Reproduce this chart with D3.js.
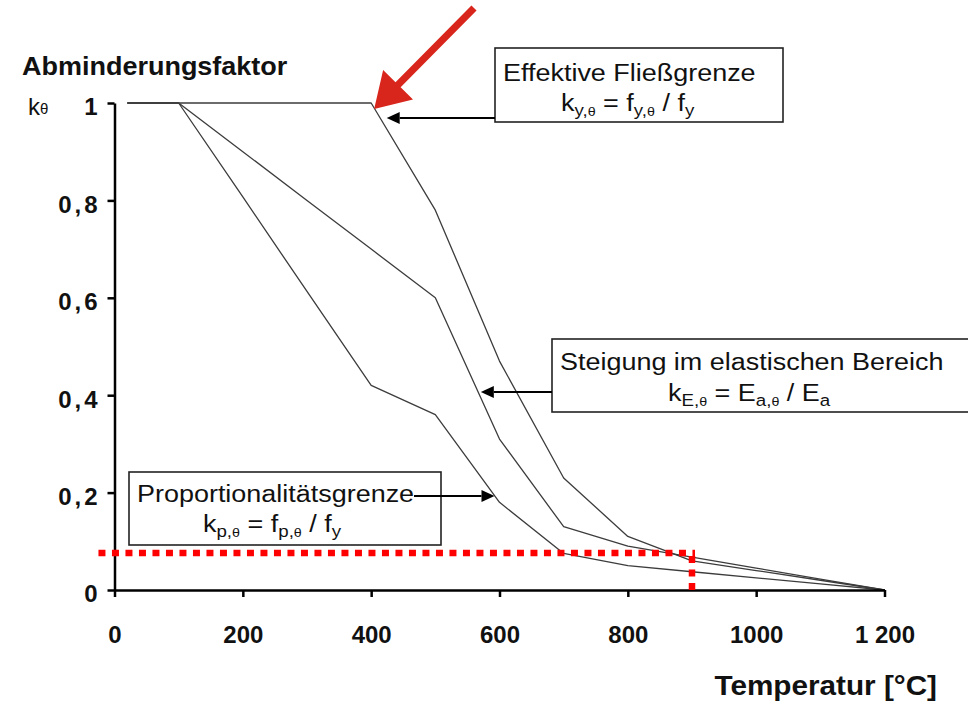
<!DOCTYPE html>
<html>
<head>
<meta charset="utf-8">
<script src="https://cdn.jsdelivr.net/npm/d3@7"></script>
<style>
  html, body { margin: 0; padding: 0; background: #fff; }
  svg { display: block; }
  text { font-family: "Liberation Sans", Arial, sans-serif; fill: #111; }
</style>
</head>
<body>
<svg id="chart" width="968" height="701"></svg>
<script>
// Reduction factors of structural steel at elevated temperature
const temps = [20, 100, 200, 300, 400, 500, 600, 700, 800, 900, 1000, 1100, 1200];
const kYield = [1, 1, 1, 1, 1, 0.78, 0.47, 0.23, 0.11, 0.06, 0.04, 0.02, 0];
const kElastic = [1, 1, 0.9, 0.8, 0.7, 0.6, 0.31, 0.13, 0.09, 0.0675, 0.045, 0.0225, 0];
const kProp = [1, 1, 0.807, 0.613, 0.42, 0.36, 0.18, 0.075, 0.05, 0.0375, 0.025, 0.0125, 0];

const xTicks = [0, 200, 400, 600, 800, 1000, 1200];
const xTickLabels = ["0", "200", "400", "600", "800", "1000", "1 200"];
const yTicks = [0, 0.2, 0.4, 0.6, 0.8, 1];
const yTickLabels = ["0", "0,2", "0,4", "0,6", "0,8", "1"];

// Highlighted reading: about 900 °C at a factor of roughly 0.075
const markTemp = 900;
const markK = 0.076;
const markStartTemp = -25;

// Arrow targets on the curves (temperature where each label points)
const yieldArrowTemp = 418;
const elasticArrowTemp = 574;
const propArrowTemp = 600;

const svg = d3.select("#chart");

const x = d3.scaleLinear().domain([0, 1200]).range([114.5, 884.5]);
const y = d3.scaleLinear().domain([0, 1]).range([590, 103]);

// Curves
const line = d3.line().x(d => x(d[0])).y(d => y(d[1]));
[kYield, kElastic, kProp].forEach(series => {
  svg.append("path")
    .datum(temps.map((t, i) => [t, series[i]]))
    .attr("d", line)
    .attr("fill", "none")
    .attr("stroke", "#3c3c3c")
    .attr("stroke-width", 1.3)
    .attr("stroke-linejoin", "round");
});

// Axes
const yAxis = d3.axisLeft(y)
  .tickValues(yTicks)
  .tickFormat((d, i) => yTickLabels[i])
  .tickSizeInner(7)
  .tickSizeOuter(0)
  .tickPadding(10);
const gy = svg.append("g").attr("transform", `translate(${x(0)},0)`).call(yAxis);
gy.attr("font-family", null);
gy.select(".domain").attr("stroke", "#000").attr("stroke-width", 2.5);
gy.selectAll(".tick line").attr("stroke", "#000").attr("stroke-width", 2.5);
gy.selectAll(".tick text")
  .attr("dy", "0.62em").attr("dx", 3)
  .style("font-size", "24px").style("font-weight", "bold").style("fill", "#111")
  .style("letter-spacing", "3px")
  .attr("transform", "translate(0,-3)");

const xAxis = d3.axisBottom(x)
  .tickValues(xTicks)
  .tickFormat((d, i) => xTickLabels[i])
  .tickSizeInner(7)
  .tickSizeOuter(0)
  .tickPadding(29);
const gx = svg.append("g").attr("transform", `translate(0,${y(0)})`).call(xAxis);
gx.attr("font-family", null);
gx.select(".domain").attr("stroke", "#000").attr("stroke-width", 2.5);
gx.selectAll(".tick line").attr("stroke", "#000").attr("stroke-width", 2.5);
gx.selectAll(".tick text")
  .style("font-size", "24px").style("font-weight", "bold").style("fill", "#111");

// Text drawn slightly wider than the font's natural width
function wideText(xx, yy, size, sx, bold, anchor) {
  return svg.append("text")
    .attr("transform", `translate(${xx},${yy}) scale(${sx},1)`)
    .attr("text-anchor", anchor || "start")
    .style("font-size", size + "px")
    .style("font-weight", bold ? "bold" : "normal");
}

// Axis titles
wideText(22, 75, 25, 1.08, true).text("Abminderungsfaktor");
const kt = wideText(28, 115, 24, 1.0, false);
kt.append("tspan").text("k");
kt.append("tspan").style("font-size", "15px").attr("dy", -1).text("θ");
wideText(937, 695, 27, 1.1, true, "end").text("Temperatur [°C]");

// Red dotted reading lines
const red = "#ff0000";
svg.append("line")
  .attr("x1", x(markStartTemp)).attr("x2", x(markTemp) + 3)
  .attr("y1", y(markK)).attr("y2", y(markK))
  .attr("stroke", red).attr("stroke-width", 6.5).attr("stroke-dasharray", "7,6.5");
svg.append("line")
  .attr("x1", x(markTemp)).attr("x2", x(markTemp))
  .attr("y1", y(markK) + 3).attr("y2", y(0) + 3)
  .attr("stroke", red).attr("stroke-width", 6.5).attr("stroke-dasharray", "7,6.5");

// Black label arrows
function blackArrow(x1, yy, x2) {
  const dir = Math.sign(x2 - x1);
  const headLen = 13, headHalf = 6;
  svg.append("line").attr("x1", x1).attr("y1", yy).attr("x2", x2 - dir * headLen).attr("y2", yy)
    .attr("stroke", "#000").attr("stroke-width", 2);
  svg.append("path")
    .attr("d", `M${x2},${yy} L${x2 - dir * headLen},${yy - headHalf} L${x2 - dir * headLen},${yy + headHalf} Z`)
    .attr("fill", "#000");
}

// Formula line: main symbol followed by a lowered index (letter + small theta)
function formulaText(xx, yy, parts) {
  const t = wideText(xx, yy, 24.5, 1.1, false);
  let lowered = false;
  parts.forEach(p => {
    if (p.sub) {
      t.append("tspan").attr("dy", lowered ? 0 : 5).style("font-size", "17px").text(p.sub);
      lowered = true;
      if (p.theta) t.append("tspan").style("font-size", "13px").text(p.theta);
    } else {
      t.append("tspan").attr("dy", lowered ? -5 : 0).text(p.t);
      lowered = false;
    }
  });
}
function box(x0, y0, x1, y1) {
  svg.append("rect").attr("x", x0).attr("y", y0).attr("width", x1 - x0).attr("height", y1 - y0)
    .attr("fill", "#fff").attr("stroke", "#222").attr("stroke-width", 1.6);
}

// Effektive Fließgrenze
box(495, 48, 783, 122);
wideText(503, 81, 24.5, 1.1, false).text("Effektive Fließgrenze");
formulaText(561, 111, [{ t: "k" }, { sub: "y,", theta: "θ" }, { t: " = f" }, { sub: "y,", theta: "θ" }, { t: " / f" }, { sub: "y" }]);
blackArrow(495, 118, x(yieldArrowTemp) + 4);

// Steigung im elastischen Bereich
box(552, 339, 990, 412);
wideText(560, 370, 24.5, 1.1, false).text("Steigung im elastischen Bereich");
formulaText(668, 401, [{ t: "k" }, { sub: "E,", theta: "θ" }, { t: " = E" }, { sub: "a,", theta: "θ" }, { t: " / E" }, { sub: "a" }]);
blackArrow(552, 392, x(elasticArrowTemp) - 2);

// Proportionalitätsgrenze
box(129, 472, 441, 545);
wideText(137, 502, 24.5, 1.1, false).text("Proportionalitätsgrenze");
formulaText(203, 532, [{ t: "k" }, { sub: "p,", theta: "θ" }, { t: " = f" }, { sub: "p,", theta: "θ" }, { t: " / f" }, { sub: "y" }]);
blackArrow(414, 496, x(propArrowTemp) - 5);

// Red pointer to the end of the yield plateau
(function redPointer() {
  const tipX = x(400) + 3, tipY = y(1) + 6;
  const tailX = 474, tailY = 8;
  const dx = tailX - tipX, dy = tailY - tipY, len = Math.hypot(dx, dy);
  const ux = dx / len, uy = dy / len, px = -uy, py = ux;
  const headLen = 34, headHalf = 21, shaftHalf = 3.6;
  const bx = tipX + ux * headLen, by = tipY + uy * headLen;
  const pts = [
    [tipX, tipY],
    [bx + px * headHalf, by + py * headHalf],
    [bx + px * shaftHalf, by + py * shaftHalf],
    [tailX + px * shaftHalf, tailY + py * shaftHalf],
    [tailX - px * shaftHalf, tailY - py * shaftHalf],
    [bx - px * shaftHalf, by - py * shaftHalf],
    [bx - px * headHalf, by - py * headHalf]
  ];
  svg.append("path").attr("d", "M" + pts.map(p => p.join(",")).join("L") + "Z")
    .attr("fill", "#d9261c");
})();
</script>
</body>
</html>
